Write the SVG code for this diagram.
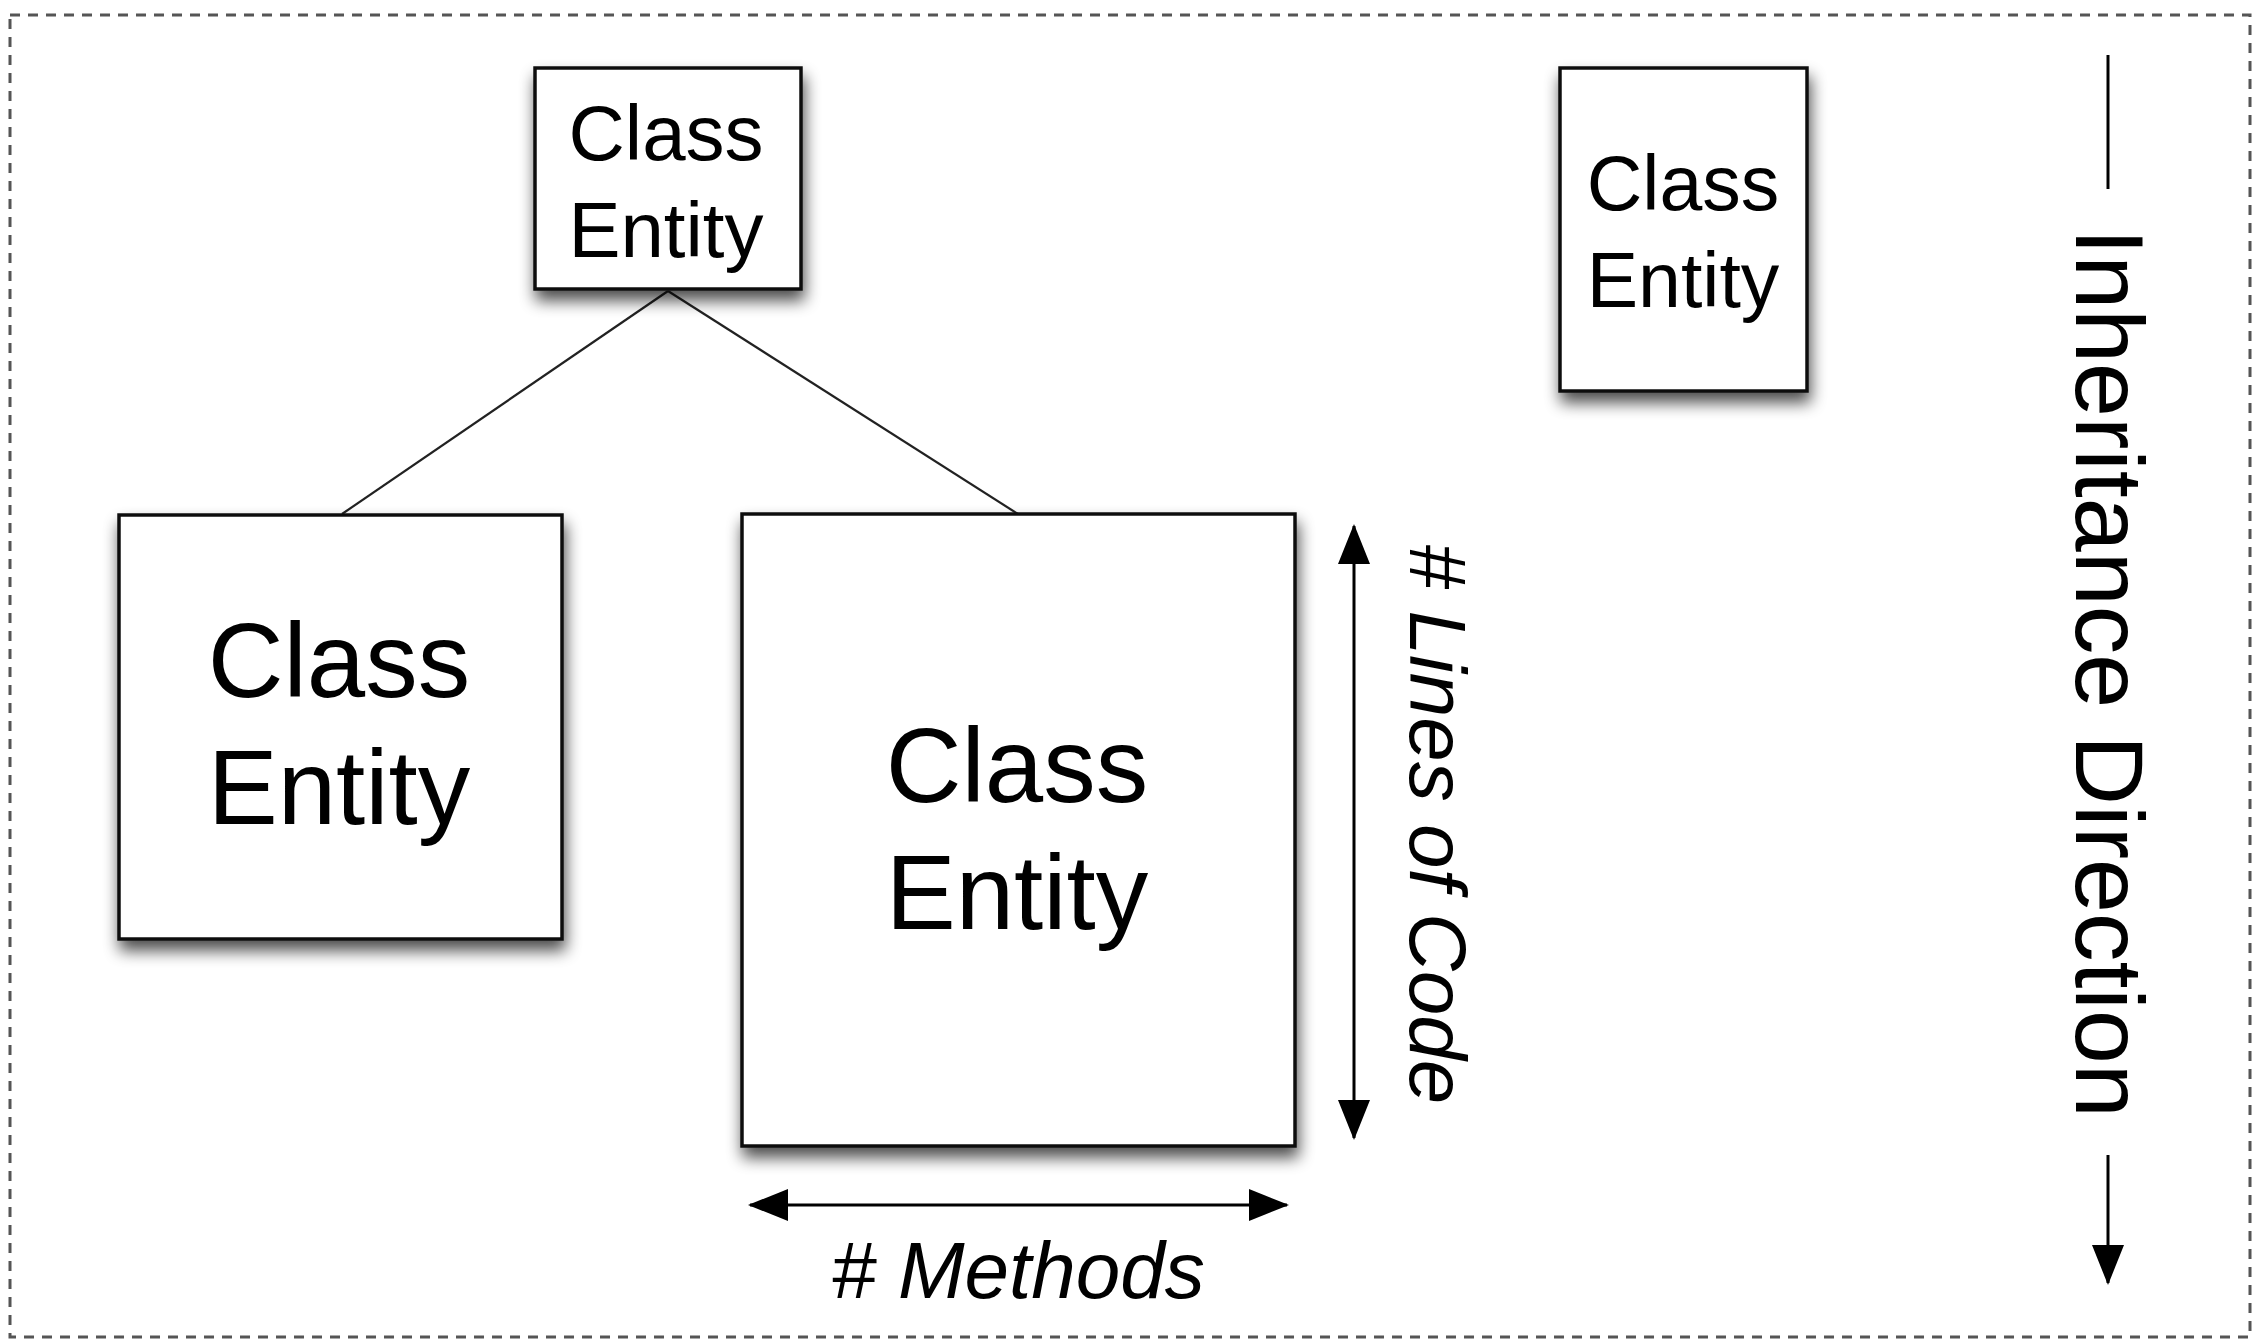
<svg xmlns="http://www.w3.org/2000/svg" width="2254" height="1343" viewBox="0 0 2254 1343">
  <style>
    .frame { fill: none; stroke: #555; stroke-width: 3; stroke-dasharray: 10 8; }
    .box { fill: #fff; stroke: #111; stroke-width: 3.5; }
    .label { font-family: "Liberation Sans", Arial, Helvetica, sans-serif; fill: #000; text-anchor: middle; }
    .dim { font-family: "Liberation Sans", Arial, Helvetica, sans-serif; fill: #000; font-style: italic; font-size: 80px; text-anchor: middle; }
    .edge { stroke: #222; stroke-width: 2.2; fill: none; }
    .measure { stroke: #000; stroke-width: 3; fill: none; }
  </style>
  <defs>
    <filter id="shadow" x="-20%" y="-20%" width="140%" height="150%">
      <feGaussianBlur in="SourceAlpha" stdDeviation="8"/>
      <feOffset dx="2" dy="10" result="blur"/>
      <feComponentTransfer><feFuncA type="linear" slope="0.7"/></feComponentTransfer>
      <feMerge><feMergeNode/><feMergeNode in="SourceGraphic"/></feMerge>
    </filter>
    <marker id="head" viewBox="0 0 40 32" refX="38" refY="16" markerWidth="40" markerHeight="32" markerUnits="userSpaceOnUse" orient="auto-start-reverse">
      <path d="M0,0 L40,16 L0,32 z" fill="#000"/>
    </marker>
  </defs>

  <rect width="2254" height="1343" fill="#fff"/>

  <!-- outer dashed frame -->
  <rect class="frame" x="10" y="15" width="2240" height="1322"/>

  <!-- inheritance links -->
  <g id="connectors">
    <line class="edge" x1="668" y1="291" x2="342" y2="514"/>
    <line class="edge" x1="668" y1="291" x2="1018" y2="514"/>
  </g>

  <g id="node-parent">
    <rect class="box" x="535" y="68" width="266" height="221" filter="url(#shadow)"/>
    <text class="label" x="666" y="160" font-size="78">Class</text>
    <text class="label" x="666" y="257" font-size="78">Entity</text>
  </g>

  <g id="node-standalone">
    <rect class="box" x="1560" y="68" width="247" height="323" filter="url(#shadow)"/>
    <text class="label" x="1683" y="210" font-size="77">Class</text>
    <text class="label" x="1683" y="307" font-size="77">Entity</text>
  </g>

  <g id="node-child-left">
    <rect class="box" x="119" y="515" width="443" height="424" filter="url(#shadow)"/>
    <text class="label" x="339" y="697" font-size="105">Class</text>
    <text class="label" x="339" y="824" font-size="105">Entity</text>
  </g>

  <g id="node-child-right">
    <rect class="box" x="742" y="514" width="553" height="632" filter="url(#shadow)"/>
    <text class="label" x="1017" y="802" font-size="105">Class</text>
    <text class="label" x="1017" y="929" font-size="105">Entity</text>
  </g>

  <!-- size legend: width = methods, height = lines of code -->
  <g id="legend">
    <line class="measure" x1="750" y1="1205" x2="1287" y2="1205" marker-start="url(#head)" marker-end="url(#head)"/>
    <text class="dim" x="1018" y="1298"># Methods</text>

    <line class="measure" x1="1354" y1="526" x2="1354" y2="1138" marker-start="url(#head)" marker-end="url(#head)"/>
    <text class="dim" transform="translate(1410,824) rotate(90)" x="0" y="0"># Lines of Code</text>

    <line class="measure" x1="2108" y1="55" x2="2108" y2="189"/>
    <line class="measure" x1="2108" y1="1155" x2="2108" y2="1283" marker-end="url(#head)"/>
    <text class="label" transform="translate(2076,673) rotate(90)" x="0" y="0" font-size="97">Inheritance Direction</text>
  </g>
</svg>
